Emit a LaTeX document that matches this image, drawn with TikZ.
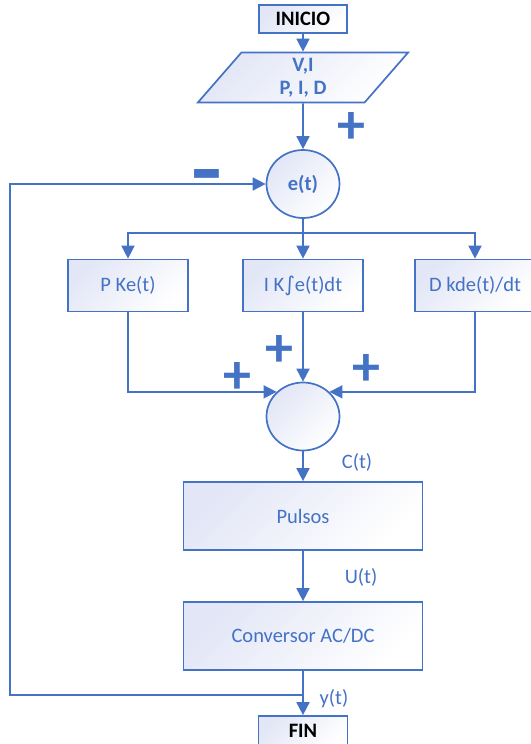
\documentclass[tikz,border=0pt]{standalone}
\usepackage{fontspec}
\setmainfont{Carlito}
\newfontfamily\simbolo{DejaVu Sans}
\usetikzlibrary{arrows.meta,positioning,shapes.geometric}

\definecolor{azul}{RGB}{68,114,196}
\definecolor{lila}{RGB}{226,230,246}
\newcommand\tamtexto{\fontsize{20.5}{23}\selectfont}

\tikzset{
  relleno/.style={top color=lila,bottom color=white,shading angle=45},
  bloque/.style={draw=azul,relleno,text=azul,font=\tamtexto,minimum width=239pt,minimum height=68pt,inner sep=0pt},
  pid/.style={bloque,minimum width=120pt,minimum height=52pt},
  terminal/.style={draw=azul,relleno,text=black,font=\tamtexto\bfseries,minimum width=88pt,minimum height=28pt,inner sep=0pt},
  datos/.style={trapezium,trapezium left angle=67,trapezium right angle=113,trapezium stretches=true,
    draw=azul,relleno,text=azul,font=\tamtexto\bfseries,align=center,minimum width=212pt,minimum height=50pt,inner sep=0pt},
  sumador/.style={ellipse,draw=azul,relleno,text=azul,font=\tamtexto\bfseries,minimum width=73pt,minimum height=68pt,inner sep=0pt},
  etiqueta/.style={text=azul,font=\tamtexto,inner sep=0pt},
  signo/.style={text=azul,font=\fontsize{56}{56}\selectfont\bfseries,inner sep=0pt}
}

\begin{document}
\begin{tikzpicture}[->,>={Triangle[length=13pt,width=13pt]},line width=1.7pt,color=azul]
 \useasboundingbox (-303pt,19pt) rectangle (227pt,-725pt);

 \node[terminal] (inicio)                                        {INICIO};
 \node[datos]    (entrada)   [below of=inicio,node distance=58.5pt]   {V,I\\P, I, D};
 \node[sumador]  (error)     [below of=entrada,node distance=106.5pt] {e(t)};
 \node[pid]      (ibox)      [below of=error,node distance=101.5pt]   {I K{\simbolo ∫}e(t)dt};
 \node[pid]      (pbox)      [left of=ibox,node distance=175pt]       {P Ke(t)};
 \node[pid]      (dbox)      [right of=ibox,node distance=172pt]      {D kde(t)/dt};
 \node[sumador]  (suma)      [below of=ibox,node distance=131pt]      {};
 \node[bloque]   (pulsos)    [below of=suma,node distance=99.5pt]     {Pulsos};
 \node[bloque]   (conversor) [below of=pulsos,node distance=120pt]    {Conversor AC/DC};
 \node[terminal,minimum width=89pt,minimum height=30pt]
                 (fin)       [below of=conversor,node distance=95pt]  {FIN};

 \coordinate[below=14pt of error.south] (rama);
 \coordinate[below=24pt of conversor.south] (salida);
 \coordinate[left=293pt of salida] (retorno);

 % signos del sumador
 \node[signo] (masE)  at ([shift={(48.5pt,56pt)}]error.center) {+};
 \node[signo] (menos) at ([shift={(-96.5pt,-2pt)}]error.center) {\scalebox{1.25}[1.8]{–}};
 \node[signo] (masI)  at ([shift={(-24pt,66pt)}]suma.center)   {+};
 \node[signo] (masP)  at ([shift={(-66pt,39pt)}]suma.center)   {+};
 \node[signo] (masD)  at ([shift={(63.5pt,46.5pt)}]suma.center) {+};

 % etiquetas de las senales
 \node[etiqueta] (ct) at ([shift={(54pt,-11pt)}]suma.south)      {C(t)};
 \node[etiqueta] (ut) at ([shift={(58pt,-27pt)}]pulsos.south)    {U(t)};
 \node[etiqueta] (yt) at ([shift={(31pt,-28pt)}]conversor.south) {y(t)};

 \draw (inicio.south) -- (entrada.north);
 \draw (entrada.south) -- (error.north);
 \draw[-] (error.south) -- (rama);
 \draw (rama) -| (pbox.north);
 \draw (rama) -- (ibox.north);
 \draw (rama) -| (dbox.north);
 \draw (pbox.south) |- (suma.137);
 \draw (ibox.south) -- (suma.north);
 \draw (dbox.south) |- (suma.43);
 \draw (suma.south) -- (pulsos.north);
 \draw (pulsos.south) -- (conversor.north);
 \draw (conversor.south) -- (fin.north);
 \draw (salida) -- (retorno) |- (error.west);
\end{tikzpicture}
\end{document}
